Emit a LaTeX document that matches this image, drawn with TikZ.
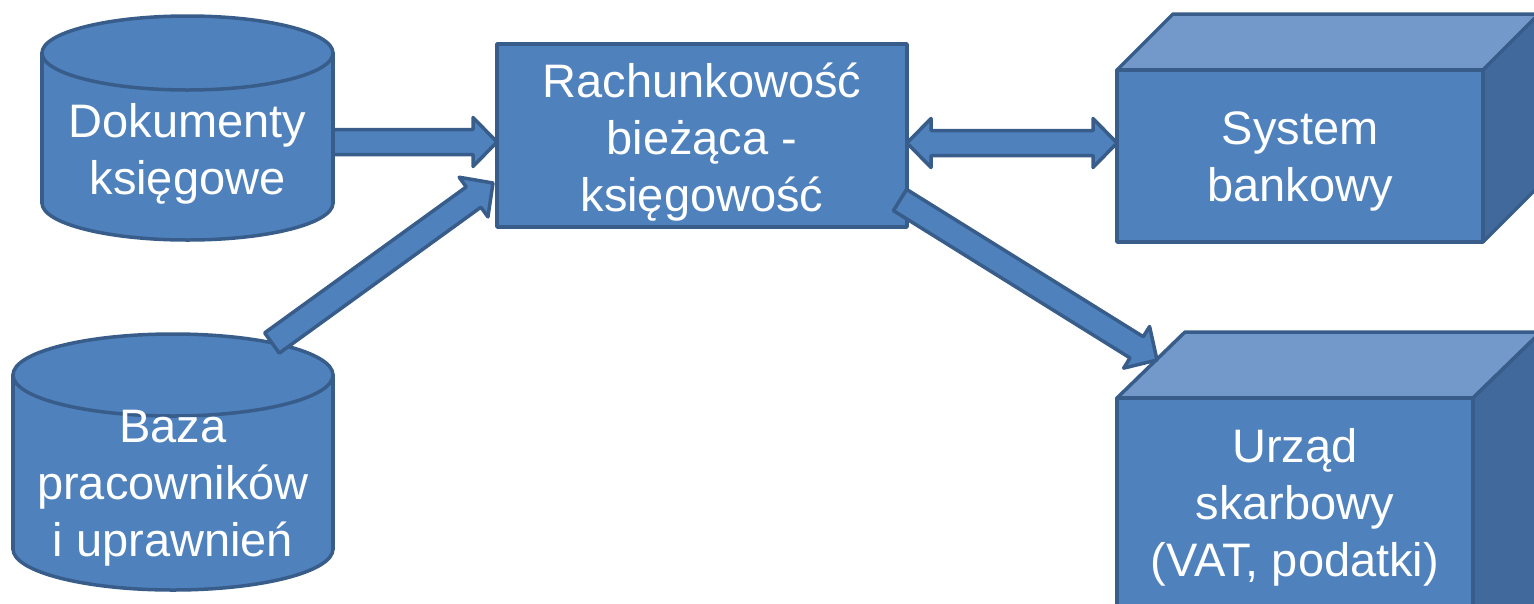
\documentclass[tikz,border=0pt]{standalone}
\usepackage{fontspec}
\setmainfont{Liberation Sans}
\usetikzlibrary{calc}
\definecolor{fillb}{HTML}{4F81BD}
\definecolor{lineb}{HTML}{385D8A}
\definecolor{topb}{HTML}{7399CA}
\definecolor{sideb}{HTML}{41699C}
\tikzset{
  shp/.style={fill=fillb, draw=lineb, line width=3.5pt, line join=round},
  lbl/.style={text=white, align=center, font=\fontsize{47}{57}\selectfont, inner sep=0pt},
}
\newcommand\barShaft{12.5pt}
\newcommand\barWing{24.5pt}
\newcommand\barHead{24pt}
\newcommand\singlearrow[3]{%
  \coordinate (#3h) at ($(#2)!\barHead!(#1)$);
  \draw[shp] ($(#1)!\barShaft!90:(#2)$) -- ($(#3h)!\barShaft!-90:(#1)$) -- ($(#3h)!\barWing!-90:(#1)$) -- (#2) -- ($(#3h)!\barWing!90:(#1)$) -- ($(#3h)!\barShaft!90:(#1)$) -- ($(#1)!\barShaft!-90:(#2)$) -- cycle;}
\newcommand\doublearrow[3]{%
  \coordinate (#3h) at ($(#2)!\barHead!(#1)$);
  \coordinate (#3t) at ($(#1)!\barHead!(#2)$);
  \draw[shp] (#1) -- ($(#3t)!\barWing!90:(#2)$) -- ($(#3t)!\barShaft!90:(#2)$) -- ($(#3h)!\barShaft!-90:(#1)$) -- ($(#3h)!\barWing!-90:(#1)$) -- (#2) -- ($(#3h)!\barWing!90:(#1)$) -- ($(#3h)!\barShaft!90:(#1)$) -- ($(#3t)!\barShaft!-90:(#2)$) -- ($(#3t)!\barWing!-90:(#2)$) -- cycle;}
% cx, rx, top cy, bottom cy, ry
\newcommand\drawcyl[5]{%
  \filldraw[shp] (#1,#4) ellipse [x radius=#2pt, y radius=#5pt];
  \fill[fillb] (#1-#2,#3) rectangle (#1+#2,#4);
  \draw[shp, fill=none, line cap=round] (#1-#2,#3) -- (#1-#2,#4) (#1+#2,#3) -- (#1+#2,#4);
  \filldraw[shp] (#1,#3) ellipse [x radius=#2pt, y radius=#5pt];}
% x1, y1 (front top-left), x2, y2 (front bottom-right), dx, dy (depth)
\newcommand\drawbox[6]{%
  \filldraw[shp, fill=topb] (#1,#2) -- (#1+#5,#2-#6) -- (#3+#5,#2-#6) -- (#3,#2) -- cycle;
  \filldraw[shp, fill=sideb] (#3,#2) -- (#3+#5,#2-#6) -- (#3+#5,#4-#6) -- (#3,#4) -- cycle;
  \filldraw[shp] (#1,#2) rectangle (#3,#4);}
\begin{document}
\begin{tikzpicture}[x=1pt, y=-1pt]
  \useasboundingbox (0,0) rectangle (1534,603);
  \clip (0,0) rectangle (1534,603);
  % shapes
  \drawcyl{187.5}{145.5}{53}{203}{37}
  \drawcyl{173}{160}{375}{549}{41}
  \filldraw[shp] (497,44) rectangle (907,227);
  \drawbox{1117}{70}{1483}{242}{56}{56}
  \drawbox{1117}{398}{1473}{680}{68}{66}
  % labels
  \node[lbl] (doc) at (187.5,154) {Dokumenty\\księgowe};
  \node[lbl] (baza) at (173,488) {Baza\\pracowników\\i uprawnień};
  \node[lbl] (rach) at (702,142) {Rachunkowość\\bieżąca -\\księgowość};
  \node[lbl] (bank) at (1300,161) {System\\bankowy};
  \node[lbl] (urzad) at (1295,507) {Urząd\\skarbowy\\(VAT, podatki)};
  % arrow end points
  \coordinate (a1s) at (333,142);
  \coordinate (a1e) at (497,142);
  \coordinate (a2s) at (272,343);
  \coordinate (a2e) at (493,183);
  \coordinate (a3s) at (907,143);
  \coordinate (a3e) at (1117,143);
  \coordinate (a4s) at (900,200);
  \coordinate (a4e) at (1157,360);
  \singlearrow{a1s}{a1e}{a1}
  \singlearrow{a2s}{a2e}{a2}
  \doublearrow{a3s}{a3e}{a3}
  \singlearrow{a4s}{a4e}{a4}
\end{tikzpicture}
\end{document}
